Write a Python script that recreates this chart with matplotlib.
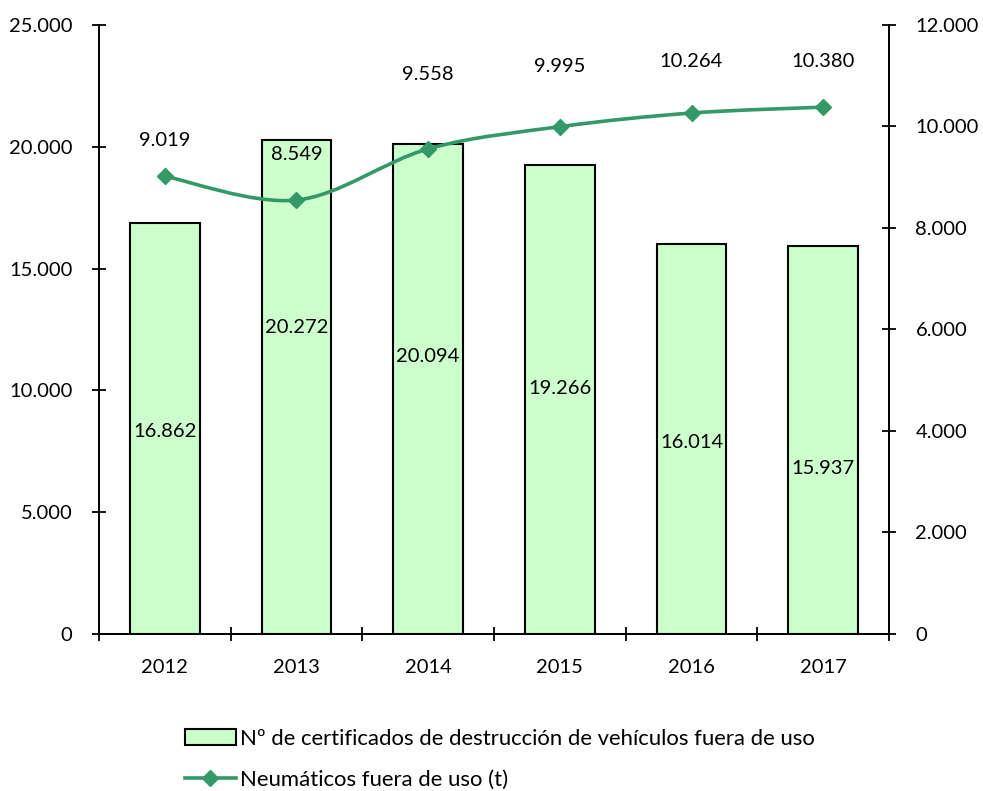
import numpy as np
import matplotlib.pyplot as plt
from matplotlib.path import Path
from matplotlib.patches import PathPatch, Patch
from matplotlib.lines import Line2D
from matplotlib.ticker import FuncFormatter, MultipleLocator

plt.rcParams['font.family'] = ['Lato', 'DejaVu Sans']

# -------------------------------
# Data
# -------------------------------
years = ["2012", "2013", "2014", "2015", "2016", "2017"]
certificados = [16862, 20272, 20094, 19266, 16014, 15937]
neumaticos = [9019, 8549, 9558, 9995, 10264, 10380]

bar_label = "Nº de certificados de destrucción de vehículos fuera de uso"
line_label = "Neumáticos fuera de uso (t)"

# label placement (as in the original, set by hand)
bar_label_y = [8300, 12560, 11410, 10060, 7840, 6810]
line_label_dy = [36, 46, 74, 60, 52, 46]   # pixels above the marker

bar_color = "#CCFFCC"
line_color = "#339966"
fs = 14.5


def miles(v, pos=None):
    return f"{int(v):,}".replace(",", ".")


fig = plt.figure(figsize=(9.83, 7.91), dpi=100)
ax = fig.add_axes([0.1007, 0.1985, 0.8037, 0.77])
ax2 = ax.twinx()

x = np.arange(len(years))
ax.bar(x, certificados, width=0.53, color=bar_color, edgecolor="black",
       linewidth=1.5, zorder=2)
for xi, v, ly in zip(x, certificados, bar_label_y):
    ax.text(xi, ly, miles(v), ha="center", va="center", fontsize=fs)

ax.set_xlim(-0.5, len(years) - 0.5)
ax.set_ylim(0, 25000)
ax.yaxis.set_major_locator(MultipleLocator(5000))
ax.yaxis.set_major_formatter(FuncFormatter(miles))
ax.set_xticks(x)
ax.set_xticklabels(years)
ax.set_xticks(np.arange(-0.5, len(years)), minor=True)
ax.tick_params(axis="x", which="major", length=0, pad=18, labelsize=fs)
ax.tick_params(axis="x", which="minor", direction="inout", length=10, width=1.3)
ax.tick_params(axis="y", direction="inout", length=10, width=1.3, pad=14,
               labelsize=fs)

# smooth line through the points (Catmull-Rom as bezier segments)
ax2.set_ylim(0, 12000)
ax2.yaxis.set_major_locator(MultipleLocator(2000))
ax2.yaxis.set_major_formatter(FuncFormatter(miles))
ax2.tick_params(axis="y", direction="inout", length=10, width=1.3, pad=14,
                labelsize=fs)

pts = np.column_stack([x, neumaticos]).astype(float)
disp = ax2.transData.transform(pts)
verts = [disp[0]]
codes = [Path.MOVETO]
n = len(disp)
for i in range(n - 1):
    p0 = disp[max(i - 1, 0)]
    p1 = disp[i]
    p2 = disp[i + 1]
    p3 = disp[min(i + 2, n - 1)]
    c1 = p1 + (p2 - p0) / 6.0
    c2 = p2 - (p3 - p1) / 6.0
    verts += [c1, c2, p2]
    codes += [Path.CURVE4] * 3
curve = PathPatch(Path(verts, codes), facecolor="none", edgecolor=line_color,
                  linewidth=2.6, transform=None, zorder=3)
ax2.add_patch(curve)
ax2.plot(x, neumaticos, linestyle="none", marker="D", markersize=8,
         color=line_color, zorder=4)
for xi, v, dy in zip(x, neumaticos, line_label_dy):
    ax2.annotate(miles(v), (xi, v), xytext=(0, dy * 0.72),
                 textcoords="offset points", ha="center", va="center",
                 fontsize=fs)

for a in (ax, ax2):
    a.spines["top"].set_visible(False)
    for s in ("left", "right", "bottom"):
        a.spines[s].set_linewidth(1.3)

# legend
handles = [
    Patch(facecolor=bar_color, edgecolor="black", linewidth=1.5),
    Line2D([0], [0], color=line_color, linewidth=2.6, marker="D", markersize=8),
]
fig.legend(handles, [bar_label, line_label], loc="upper left",
           bbox_to_anchor=(0.179, 0.09), frameon=False, fontsize=15.9,
           labelspacing=0.95, handlelength=2.3, handletextpad=0.2,
           borderaxespad=0)

fig.savefig("out.png", dpi=100)
